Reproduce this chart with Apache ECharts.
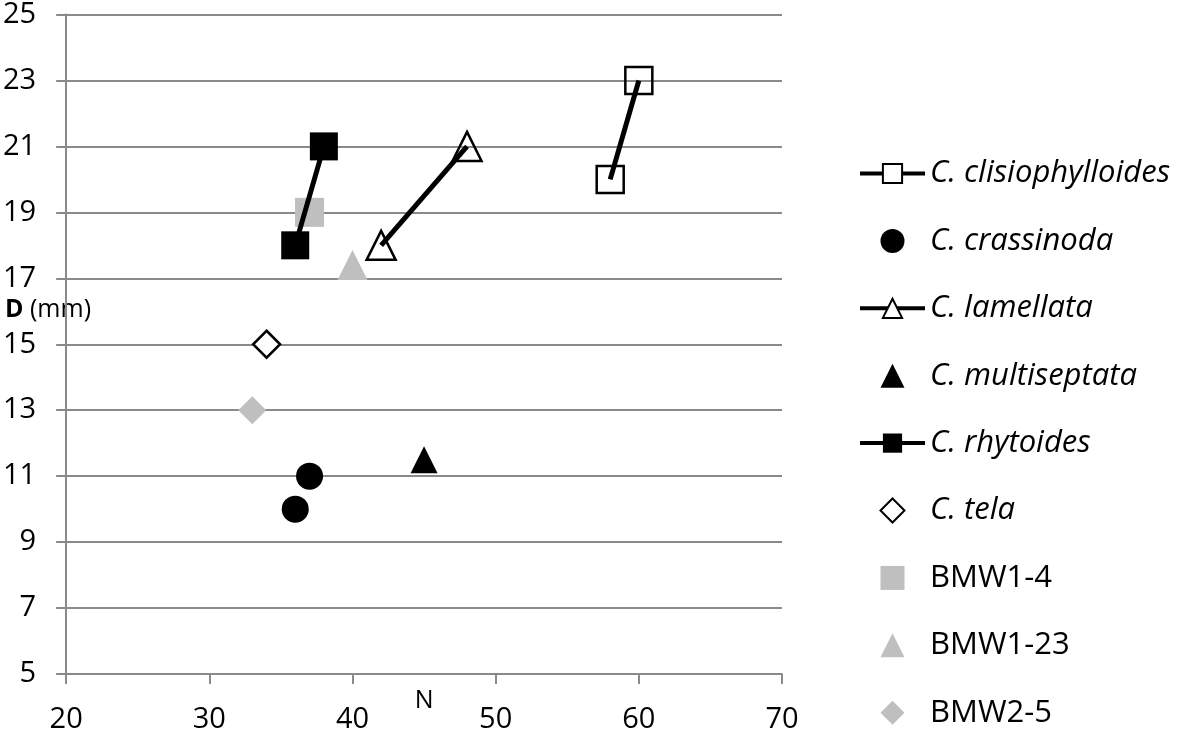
<!DOCTYPE html>
<html>
<head>
<meta charset="utf-8">
<script src="https://cdn.jsdelivr.net/npm/echarts@6/dist/echarts.min.js"></script>
<style>
  html, body { margin: 0; padding: 0; background: #fff; }
  #chart { width: 1181px; height: 743px; }
</style>
</head>
<body>
<div id="chart"></div>
<script>
// N (x) and D in mm (y) for each taxon
const clisiophylloides = [[58, 20], [60, 23]]
const crassinoda = [[36, 10], [37, 11]]
const lamellata = [[42, 18], [48, 21]]
const multiseptata = [[45, 11.5]]
const rhytoides = [[36, 18], [38, 21]]
const tela = [[34, 15]]
const bmw1_4 = [[37, 19]]
const bmw1_23 = [[40, 17.4]]
const bmw2_5 = [[33, 13]]

const names = ['C. clisiophylloides', 'C. crassinoda', 'C. lamellata', 'C. multiseptata',
  'C. rhytoides', 'C. tela', 'BMW1-4', 'BMW1-23', 'BMW2-5']

const gridColor = '#8a8a8a'
const grey = '#bfbfbf'
const font = '"Open Sans", Lato, sans-serif'

// legend icons as paths so they keep their aspect inside the wide legend slot
const sqIcon = 'path://M0,0L2,0L2,2L0,2Z'
const triIcon = 'path://M1,0L2,2L0,2Z'
const diaIcon = 'path://M1,0L2,1L1,2L0,1Z'

const chart = echarts.init(document.getElementById('chart'))

// line series with hollow markers
const lineSeries = (name, data, symbol, size, fill) => ({
  name: name,
  type: 'line',
  data: data,
  symbol: symbol,
  symbolSize: size,
  showAllSymbol: true,
  lineStyle: { color: '#000', width: 5 },
  itemStyle: { color: fill, borderColor: '#000', borderWidth: 2.5 },
  emphasis: { disabled: true },
  animation: false,
})

const dots = (name, data, symbol, size, color, border) => ({
  name: name,
  type: 'scatter',
  data: data,
  symbol: symbol,
  symbolSize: size,
  itemStyle: border
    ? { color: '#fff', borderColor: '#000', borderWidth: 2.5, opacity: 1 }
    : { color: color, opacity: 1 },
  emphasis: { disabled: true },
  animation: false,
})

const italic = { fontStyle: 'italic' }

const option = {
  backgroundColor: '#fff',
  textStyle: { fontFamily: font },
  grid: { left: 66, right: 399, top: 11, bottom: 69 },
  xAxis: {
    type: 'value',
    min: 20,
    max: 70,
    interval: 10,
    name: 'N',
    nameLocation: 'middle',
    nameGap: 14,
    nameMoveOverlap: false,
    nameTextStyle: { fontSize: 25, color: '#000', fontFamily: font },
    axisLine: { show: true, lineStyle: { color: gridColor, width: 2 } },
    axisTick: { show: true, length: 10, lineStyle: { color: gridColor, width: 2 } },
    axisLabel: { fontSize: 29, color: '#000', margin: 31, fontFamily: font },
    splitLine: { show: false },
  },
  yAxis: {
    type: 'value',
    min: 5,
    max: 25,
    interval: 2,
    axisLine: { show: true, lineStyle: { color: gridColor, width: 2 } },
    axisTick: { show: true, length: 10, lineStyle: { color: gridColor, width: 2 } },
    axisLabel: { fontSize: 29, color: '#000', margin: 30, fontFamily: font },
    splitLine: { show: true, lineStyle: { color: gridColor, width: 2 } },
  },
  legend: {
    orient: 'vertical',
    left: 853,
    top: 153,
    itemWidth: 65,
    itemHeight: 24,
    itemGap: 36.4,
    symbolKeepAspect: true,
    selectedMode: false,
    textStyle: { fontSize: 31, color: '#000', fontFamily: font, lineHeight: 30 },
    data: [
      { name: names[0], itemStyle: { color: '#fff', borderWidth: 2 }, lineStyle: { width: 4 }, textStyle: italic },
      { name: names[1], textStyle: italic },
      { name: names[2], itemStyle: { color: '#fff', borderWidth: 2 }, lineStyle: { width: 4 }, textStyle: italic },
      { name: names[3], icon: triIcon, textStyle: italic },
      { name: names[4], lineStyle: { width: 4 }, textStyle: italic },
      { name: names[5], icon: diaIcon, itemStyle: { borderWidth: 2 }, textStyle: italic },
      { name: names[6], icon: sqIcon },
      { name: names[7], icon: triIcon },
      { name: names[8], icon: diaIcon },
    ],
  },
  graphic: [
    {
      type: 'text',
      left: 5,
      top: 297,
      style: {
        text: '{b|D} (mm)',
        fontSize: 25,
        fontFamily: font,
        fill: '#000',
        rich: { b: { fontWeight: 'bold', fontSize: 25, fontFamily: font } },
      },
    },
  ],
  series: [
    lineSeries(names[0], clisiophylloides, 'rect', 27, 'rgba(0,0,0,0)'),
    dots(names[1], crassinoda, 'circle', 27, '#000'),
    lineSeries(names[2], lamellata, 'triangle', 29, 'rgba(0,0,0,0)'),
    dots(names[3], multiseptata, 'triangle', 27, '#000'),
    {
      name: names[4],
      type: 'line',
      data: rhytoides,
      symbol: 'rect',
      symbolSize: 28,
      lineStyle: { color: '#000', width: 5 },
      itemStyle: { color: '#000' },
      emphasis: { disabled: true },
      animation: false,
    },
    dots(names[5], tela, 'diamond', 27, '#000', true),
    dots(names[6], bmw1_4, 'rect', 29, grey),
    dots(names[7], bmw1_23, 'triangle', 30, grey),
    dots(names[8], bmw2_5, 'diamond', 28, grey),
  ],
}

chart.setOption(option)
window.addEventListener('resize', () => {
  chart.resize()
})
</script>
</body>
</html>
